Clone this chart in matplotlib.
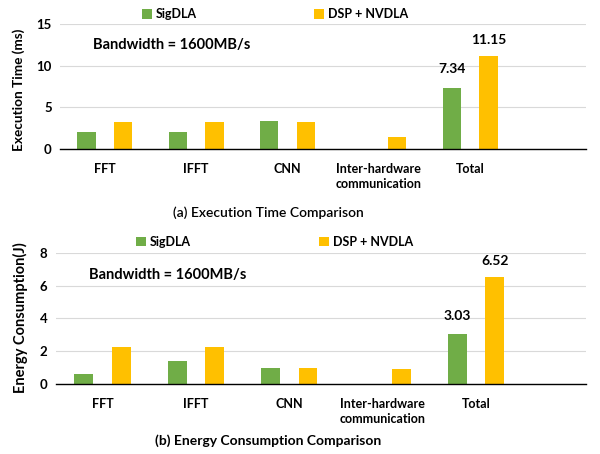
import numpy as np
import matplotlib
matplotlib.use("Agg")
import matplotlib.pyplot as plt

plt.rcParams['font.family'] = ['Lato', 'DejaVu Sans']

categories = ['FFT', 'IFFT', 'CNN', 'Inter-hardware\ncommunication', 'Total']
series = ['SigDLA', 'DSP + NVDLA']
time_sigdla = [2.02, 2.02, 3.30, 0, 7.34]
time_dsp = [3.25, 3.25, 3.25, 1.40, 11.15]
energy_sigdla = [0.63, 1.42, 1.00, 0, 3.03]
energy_dsp = [2.29, 2.29, 0.99, 0.95, 6.52]

green = '#70AD47'
yellow = '#FFC000'

fig = plt.figure(figsize=(6, 4.54), dpi=100)


def panel(rect, a, b, ymax, ystep, ylabel, ylab_size, ylab_xy, xlim, caption, cap_y, cap_weight,
          leg_x, leg_y, colsp):
    ax = fig.add_axes(rect)
    x = np.arange(len(categories))
    w = 0.2
    ax.bar(x - w, a, w, color=green, label=series[0], zorder=3)
    ax.bar(x + w, b, w, color=yellow, label=series[1], zorder=3)
    ax.set_ylim(0, ymax)
    ax.set_xlim(*xlim)
    ax.set_yticks(np.arange(0, ymax + 0.1, ystep))
    ax.set_xticks(x)
    ax.set_xticklabels(categories, fontsize=9, fontweight='bold', linespacing=1.3)
    ax.tick_params(axis='x', length=0, pad=10)
    ax.tick_params(axis='y', length=0, pad=6, labelsize=9.5)
    for lab in ax.get_yticklabels():
        lab.set_fontweight('bold')
    ax.grid(axis='y', color='#d9d9d9', linewidth=0.8, zorder=0)
    for s in ['top', 'right', 'left']:
        ax.spines[s].set_visible(False)
    ax.spines['bottom'].set_color('black')
    ax.spines['bottom'].set_linewidth(1.0)
    ax.spines['bottom'].set_zorder(4)
    ax.set_ylabel(ylabel, fontsize=ylab_size, fontweight='bold')
    ax.yaxis.set_label_coords(*ylab_xy, transform=fig.transFigure)
    # value labels on totals
    ax.annotate(f'{a[-1]:.2f}', (x[-1] - w, a[-1]), xytext=(0, 9), textcoords='offset points',
                ha='center', va='bottom', fontsize=10, fontweight='bold')
    ax.annotate(f'{b[-1]:.2f}', (x[-1] + w, b[-1]), xytext=(0, 7), textcoords='offset points',
                ha='center', va='bottom', fontsize=10, fontweight='bold')
    ax.text(0.063, 0.83, 'Bandwidth = 1600MB/s', transform=ax.transAxes, fontsize=10.5,
            fontweight='bold', va='center')
    ax.legend(loc='center', bbox_to_anchor=(leg_x, leg_y), bbox_transform=fig.transFigure,
              ncol=2, frameon=False, handlelength=0.8, handleheight=0.8, handletextpad=0.3,
              columnspacing=colsp, prop={'weight': 'bold', 'size': 9})
    fig.text(0.447, cap_y, caption, ha='center', va='center', fontsize=10, fontweight=cap_weight)
    return ax


panel([0.1, 0.672, 0.877, 0.275], time_sigdla, time_dsp, 15, 5, 'Execution Time (ms)', 9.8,
      (0.041, 1 - 90 / 454), (-0.49, 5.27), '(a) Execution Time Comparison', 1 - 213 / 454,
      'semibold', 0.458, 0.969, 9.4)
panel([0.093, 0.154, 0.884, 0.289], energy_sigdla, energy_dsp, 8, 2, 'Energy Consumption(J)',
      10.5, (0.046, 1 - 318 / 454), (-0.50, 5.18), '(b) Energy Consumption Comparison',
      1 - 441 / 454, 'bold', 0.457, 0.467, 10.3)

fig.savefig('out.png', dpi=100)
